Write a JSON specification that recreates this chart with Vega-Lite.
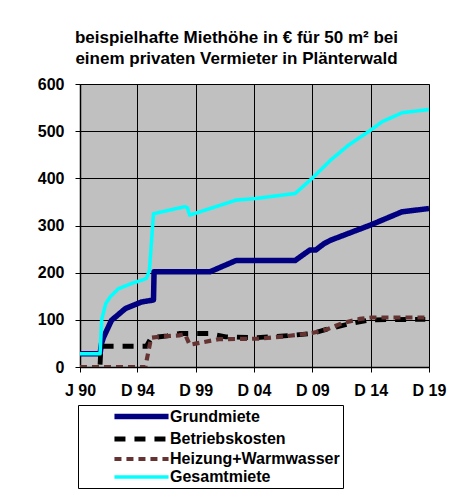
{
  "$schema": "https://vega.github.io/schema/vega-lite/v6.json",
  "width": 349,
  "height": 283,
  "autosize": {"type": "none"},
  "padding": {"left": 80, "top": 84, "right": 46, "bottom": 124},
  "background": "white",
  "title": {
    "text": ["beispielhafte Miethöhe in € für 50 m² bei", "einem privaten Vermieter in Plänterwald"],
    "font": "Liberation Sans",
    "fontSize": 17,
    "fontWeight": "bold",
    "color": "black",
    "anchor": "middle",
    "dx": -18,
    "offset": 8,
    "lineHeight": 21
  },
  "data": {
    "values": [
      {"jahr": 1990.0, "reihe": "Grundmiete", "euro": 28},
      {"jahr": 1991.72, "reihe": "Grundmiete", "euro": 28},
      {"jahr": 1991.85, "reihe": "Grundmiete", "euro": 50},
      {"jahr": 1992.0, "reihe": "Grundmiete", "euro": 62},
      {"jahr": 1992.7, "reihe": "Grundmiete", "euro": 99},
      {"jahr": 1993.9, "reihe": "Grundmiete", "euro": 124},
      {"jahr": 1995.3, "reihe": "Grundmiete", "euro": 138},
      {"jahr": 1996.3, "reihe": "Grundmiete", "euro": 142},
      {"jahr": 1996.35, "reihe": "Grundmiete", "euro": 202},
      {"jahr": 2001.15, "reihe": "Grundmiete", "euro": 202},
      {"jahr": 2003.4, "reihe": "Grundmiete", "euro": 226},
      {"jahr": 2008.45, "reihe": "Grundmiete", "euro": 226},
      {"jahr": 2009.7, "reihe": "Grundmiete", "euro": 248},
      {"jahr": 2010.2, "reihe": "Grundmiete", "euro": 248},
      {"jahr": 2010.95, "reihe": "Grundmiete", "euro": 262},
      {"jahr": 2011.5, "reihe": "Grundmiete", "euro": 269},
      {"jahr": 2014.9, "reihe": "Grundmiete", "euro": 301},
      {"jahr": 2017.6, "reihe": "Grundmiete", "euro": 329},
      {"jahr": 2019.917, "reihe": "Grundmiete", "euro": 336},

      {"jahr": 1991.72, "reihe": "Betriebskosten", "euro": 5},
      {"jahr": 1991.8, "reihe": "Betriebskosten", "euro": 44},
      {"jahr": 1995.7, "reihe": "Betriebskosten", "euro": 44},
      {"jahr": 1996.1, "reihe": "Betriebskosten", "euro": 62},
      {"jahr": 1997.5, "reihe": "Betriebskosten", "euro": 66},
      {"jahr": 1998.5, "reihe": "Betriebskosten", "euro": 71},
      {"jahr": 2001.0, "reihe": "Betriebskosten", "euro": 71},
      {"jahr": 2002.5, "reihe": "Betriebskosten", "euro": 64},
      {"jahr": 2005.0, "reihe": "Betriebskosten", "euro": 62},
      {"jahr": 2007.5, "reihe": "Betriebskosten", "euro": 66},
      {"jahr": 2009.9, "reihe": "Betriebskosten", "euro": 71},
      {"jahr": 2011.3, "reihe": "Betriebskosten", "euro": 81},
      {"jahr": 2013.0, "reihe": "Betriebskosten", "euro": 91},
      {"jahr": 2014.9, "reihe": "Betriebskosten", "euro": 100},
      {"jahr": 2019.6, "reihe": "Betriebskosten", "euro": 101},

      {"jahr": 1990.0, "reihe": "Heizung+Warmwasser", "euro": 0},
      {"jahr": 1995.6, "reihe": "Heizung+Warmwasser", "euro": 0},
      {"jahr": 1996.1, "reihe": "Heizung+Warmwasser", "euro": 62},
      {"jahr": 1997.0, "reihe": "Heizung+Warmwasser", "euro": 65},
      {"jahr": 1998.5, "reihe": "Heizung+Warmwasser", "euro": 67},
      {"jahr": 1999.0, "reihe": "Heizung+Warmwasser", "euro": 70},
      {"jahr": 1999.4, "reihe": "Heizung+Warmwasser", "euro": 47},
      {"jahr": 2000.0, "reihe": "Heizung+Warmwasser", "euro": 50},
      {"jahr": 2001.9, "reihe": "Heizung+Warmwasser", "euro": 59},
      {"jahr": 2005.3, "reihe": "Heizung+Warmwasser", "euro": 60},
      {"jahr": 2007.6, "reihe": "Heizung+Warmwasser", "euro": 65},
      {"jahr": 2009.9, "reihe": "Heizung+Warmwasser", "euro": 72},
      {"jahr": 2011.2, "reihe": "Heizung+Warmwasser", "euro": 80},
      {"jahr": 2012.5, "reihe": "Heizung+Warmwasser", "euro": 93},
      {"jahr": 2014.0, "reihe": "Heizung+Warmwasser", "euro": 102},
      {"jahr": 2015.0, "reihe": "Heizung+Warmwasser", "euro": 105},
      {"jahr": 2019.6, "reihe": "Heizung+Warmwasser", "euro": 105},

      {"jahr": 1990.0, "reihe": "Gesamtmiete", "euro": 28},
      {"jahr": 1991.72, "reihe": "Gesamtmiete", "euro": 28},
      {"jahr": 1991.86, "reihe": "Gesamtmiete", "euro": 100},
      {"jahr": 1992.2, "reihe": "Gesamtmiete", "euro": 134},
      {"jahr": 1992.6, "reihe": "Gesamtmiete", "euro": 149},
      {"jahr": 1993.3, "reihe": "Gesamtmiete", "euro": 166},
      {"jahr": 1994.4, "reihe": "Gesamtmiete", "euro": 177},
      {"jahr": 1995.4, "reihe": "Gesamtmiete", "euro": 185},
      {"jahr": 1995.7, "reihe": "Gesamtmiete", "euro": 188},
      {"jahr": 1995.95, "reihe": "Gesamtmiete", "euro": 205},
      {"jahr": 1996.3, "reihe": "Gesamtmiete", "euro": 325},
      {"jahr": 1999.0, "reihe": "Gesamtmiete", "euro": 340},
      {"jahr": 1999.2, "reihe": "Gesamtmiete", "euro": 338},
      {"jahr": 1999.4, "reihe": "Gesamtmiete", "euro": 322},
      {"jahr": 2003.4, "reihe": "Gesamtmiete", "euro": 354},
      {"jahr": 2005.0, "reihe": "Gesamtmiete", "euro": 357},
      {"jahr": 2008.45, "reihe": "Gesamtmiete", "euro": 368},
      {"jahr": 2009.9, "reihe": "Gesamtmiete", "euro": 400},
      {"jahr": 2011.5, "reihe": "Gesamtmiete", "euro": 439},
      {"jahr": 2013.0, "reihe": "Gesamtmiete", "euro": 470},
      {"jahr": 2014.9, "reihe": "Gesamtmiete", "euro": 502},
      {"jahr": 2015.9, "reihe": "Gesamtmiete", "euro": 520},
      {"jahr": 2017.6, "reihe": "Gesamtmiete", "euro": 539},
      {"jahr": 2019.917, "reihe": "Gesamtmiete", "euro": 546}
    ]
  },
  "mark": {"type": "line", "strokeCap": "butt", "strokeJoin": "round", "clip": true},
  "encoding": {
    "x": {
      "field": "jahr",
      "type": "quantitative",
      "scale": {"domain": [1990, 2019.9167], "nice": false, "zero": false},
      "axis": {
        "title": null,
        "values": [1990, 1994.9167, 1999.9167, 2004.9167, 2009.9167, 2014.9167, 2019.9167],
        "labelExpr": "datum.value < 1991 ? 'J 90' : 'D ' + substring(toString(floor(datum.value)), 2, 4)",
        "grid": true,
        "gridColor": "black",
        "gridOpacity": 1,
        "gridWidth": 1,
        "domainColor": "black",
        "domainWidth": 1.5,
        "tickColor": "black",
        "tickSize": 5,
        "labelPadding": 10,
        "labelFont": "Liberation Sans",
        "labelFontSize": 16,
        "labelFontWeight": "bold",
        "labelColor": "black",
        "labelFlush": false,
        "labelOverlap": false
      }
    },
    "y": {
      "field": "euro",
      "type": "quantitative",
      "scale": {"domain": [0, 600], "nice": false},
      "axis": {
        "title": null,
        "values": [0, 100, 200, 300, 400, 500, 600],
        "grid": true,
        "gridColor": "black",
        "gridOpacity": 1,
        "gridWidth": 1,
        "domainColor": "black",
        "domainWidth": 1.5,
        "tickColor": "black",
        "tickSize": 5,
        "labelPadding": 11,
        "labelFont": "Liberation Sans",
        "labelFontSize": 16,
        "labelFontWeight": "bold",
        "labelColor": "black",
        "labelOverlap": false
      }
    },
    "color": {
      "field": "reihe",
      "type": "nominal",
      "scale": {
        "domain": ["Grundmiete", "Betriebskosten", "Heizung+Warmwasser", "Gesamtmiete"],
        "range": ["#000080", "#000000", "#663333", "#00FFFF"]
      },
      "legend": {
        "title": null,
        "orient": "none",
        "legendX": -2,
        "legendY": 321,
        "direction": "vertical",
        "symbolType": "M-5,0H5",
        "symbolSize": 117,
        "symbolOffset": 52,
        "padding": 3,
        "rowPadding": 1,
        "labelOffset": 20,
        "labelFont": "Liberation Sans",
        "labelFontSize": 16,
        "labelFontWeight": "bold",
        "labelColor": "black",
        "labelLimit": 400,
        "labelExpr": "datum.label + '\u2003\u2003\u2002\u2009'",
        "strokeColor": "black",
        "fillColor": "white"
      }
    },
    "strokeDash": {
      "field": "reihe",
      "type": "nominal",
      "scale": {
        "domain": ["Grundmiete", "Betriebskosten", "Heizung+Warmwasser", "Gesamtmiete"],
        "range": [[1, 0], [11, 9], [7, 5], [1, 0]]
      },
      "legend": null
    },
    "strokeWidth": {
      "field": "reihe",
      "type": "nominal",
      "scale": {
        "domain": ["Grundmiete", "Betriebskosten", "Heizung+Warmwasser", "Gesamtmiete"],
        "range": [5.5, 3.5, 2.8, 6]
      },
      "legend": null
    }
  },
  "config": {
    "view": {"fill": "#C0C0C0", "stroke": "#808080", "strokeWidth": 1},
    "font": "Liberation Sans"
  }
}
